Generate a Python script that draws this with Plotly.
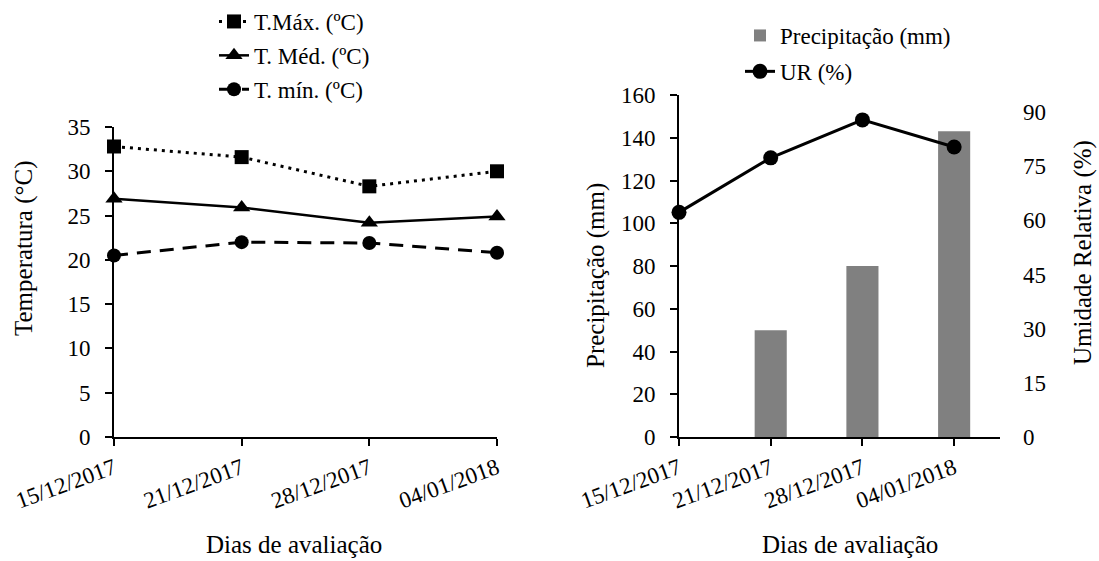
import plotly.graph_objects as go

# ---- data ----
dates = ["15/12/2017", "21/12/2017", "28/12/2017", "04/01/2018"]
t_max = [32.8, 31.6, 28.3, 30.0]
t_med = [26.9, 25.9, 24.2, 24.9]
t_min = [20.5, 22.0, 21.9, 20.8]
precip = [0, 50, 80, 143]
ur = [62.2, 77.3, 87.8, 80.3]

W, H = 1099, 561
def px(x): return x / W
def py(y): return 1 - y / H

FONT = "Liberation Serif, Times New Roman, serif"
TICKF = dict(family=FONT, size=23, color="black")

fig = go.Figure()

fig.add_trace(go.Scatter(x=dates, y=t_max, name="T.Máx. (ºC)", mode="lines+markers",
                         line=dict(color="black", width=3, dash="3px,5px"),
                         marker=dict(symbol="square", size=14, color="black"),
                         cliponaxis=False, xaxis="x", yaxis="y", legend="legend", legendgroup="a"))
fig.add_trace(go.Scatter(x=dates, y=t_med, name="T. Méd. (ºC)", mode="lines+markers",
                         line=dict(color="black", width=2.5),
                         marker=dict(symbol="triangle-up", size=15, color="black"),
                         cliponaxis=False, xaxis="x", yaxis="y", legend="legend", legendgroup="b"))
fig.add_trace(go.Scatter(x=dates, y=t_min, name="T. mín. (ºC)", mode="lines+markers",
                         line=dict(color="black", width=3, dash="14px,9px"),
                         marker=dict(symbol="circle", size=14, color="black"),
                         cliponaxis=False, xaxis="x", yaxis="y", legend="legend", legendgroup="c"))

fig.add_trace(go.Bar(x=dates, y=precip, name="Precipitação (mm)", width=0.35,
                     marker=dict(color="#808080", line=dict(width=0)),
                     xaxis="x2", yaxis="y2", legend="legend2", legendgroup="d"))
fig.add_trace(go.Scatter(x=dates, y=ur, name="UR (%)", mode="lines+markers",
                         line=dict(color="black", width=3),
                         marker=dict(symbol="circle", size=15, color="black"),
                         cliponaxis=False, xaxis="x2", yaxis="y3", legend="legend2", legendgroup="e"))

axis_common = dict(showline=True, linecolor="black", linewidth=2, showgrid=False,
                   zeroline=False, ticks="outside", ticklen=7, tickwidth=2,
                   tickcolor="black", tickfont=TICKF, automargin=False)

fig.update_layout(
    width=W, height=H,
    margin=dict(l=0, r=0, t=0, b=0, autoexpand=False),
    paper_bgcolor="white", plot_bgcolor="white",
    font=dict(family=FONT, color="black"),
    barmode="overlay",
    xaxis=dict(domain=[px(114), px(497)], type="category", range=[0, 3],
               anchor="y", tickangle=-20, **axis_common),
    yaxis=dict(domain=[py(437), py(127)], range=[0, 35], dtick=5, anchor="x",
               ticklabelstandoff=10, **axis_common),
    xaxis2=dict(domain=[px(679), px(1000)], type="category", range=[0, 3.5],
                anchor="y2", tickangle=-20, **axis_common),
    yaxis2=dict(domain=[py(437), py(95)], range=[0, 160], dtick=20, anchor="x2",
                ticklabelstandoff=10, **axis_common),
    yaxis3=dict(overlaying="y2", side="right", anchor="x2", range=[0, 94.7], dtick=15,
                showline=False, showgrid=False, zeroline=False, ticks="",
                ticklabelstandoff=22, tickfont=TICKF, automargin=False),
    legend=dict(x=px(214), y=1.0, xanchor="left", yanchor="top",
                font=dict(family=FONT, size=23, color="black"),
                bgcolor="rgba(0,0,0,0)", tracegroupgap=1, itemwidth=30),
    legend2=dict(x=px(740), y=py(14), xanchor="left", yanchor="top",
                 font=dict(family=FONT, size=23, color="black"),
                 bgcolor="rgba(0,0,0,0)", tracegroupgap=3, itemwidth=30),
    showlegend=True,
)

ann_font = dict(family=FONT, size=25, color="black")
fig.add_annotation(text="Dias de avaliação", x=px(294), y=py(544), xref="paper", yref="paper",
                   showarrow=False, font=ann_font, xanchor="center", yanchor="middle")
fig.add_annotation(text="Dias de avaliação", x=px(850), y=py(544), xref="paper", yref="paper",
                   showarrow=False, font=ann_font, xanchor="center", yanchor="middle")
fig.add_annotation(text="Temperatura (°C)", x=px(24), y=py(248), xref="paper", yref="paper",
                   showarrow=False, font=ann_font, textangle=-90, xanchor="center", yanchor="middle")
fig.add_annotation(text="Precipitação (mm)", x=px(596), y=py(276), xref="paper", yref="paper",
                   showarrow=False, font=ann_font, textangle=-90, xanchor="center", yanchor="middle")
fig.add_annotation(text="Umidade Relativa (%)", x=px(1083), y=py(253), xref="paper", yref="paper",
                   showarrow=False, font=ann_font, textangle=-90, xanchor="center", yanchor="middle")

fig.write_html("out.html")
